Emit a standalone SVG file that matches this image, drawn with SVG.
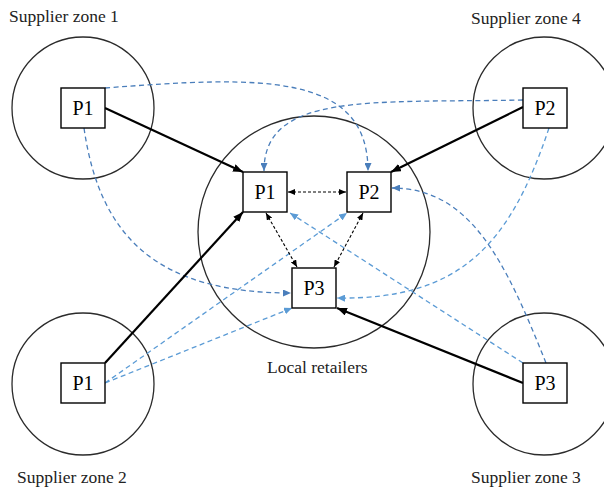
<svg xmlns="http://www.w3.org/2000/svg" width="604" height="489" viewBox="0 0 604 489">
<defs>
<style>
.zone{fill:none;stroke:#2b2b2b;stroke-width:1.3}
.box{fill:#fff;stroke:#000;stroke-width:1.4}
.lbl{font-family:"Liberation Serif","Times New Roman",serif;font-size:17.5px;fill:#222}
.plbl{font-family:"Liberation Serif","Times New Roman",serif;font-size:20px;fill:#000;text-anchor:middle}
.solid{fill:none;stroke:#000;stroke-width:2.2;marker-end:url(#ab)}
.dot{fill:none;stroke:#000;stroke-width:1.1;stroke-dasharray:3 2;marker-end:url(#ad);marker-start:url(#ad)}
.dk{fill:none;stroke:#4a7ebb;stroke-width:1.3;stroke-dasharray:5 3.5;marker-end:url(#adk)}
.lt{fill:none;stroke:#5b9bd5;stroke-width:1.3;stroke-dasharray:5 3.5;marker-end:url(#alt)}
</style>
<marker id="ab" markerUnits="userSpaceOnUse" markerWidth="10" markerHeight="8" refX="10" refY="4" orient="auto"><path d="M0,0 L10,4 L0,8 z" fill="#000"/></marker>
<marker id="ad" markerUnits="userSpaceOnUse" markerWidth="7" markerHeight="6" refX="7" refY="3" orient="auto-start-reverse"><path d="M0,0 L7,3 L0,6 z" fill="#000"/></marker>
<marker id="adk" markerUnits="userSpaceOnUse" markerWidth="8" markerHeight="7" refX="8" refY="3.5" orient="auto"><path d="M0,0 L8,3.5 L0,7 z" fill="#4a7ebb"/></marker>
<marker id="alt" markerUnits="userSpaceOnUse" markerWidth="8" markerHeight="7" refX="8" refY="3.5" orient="auto"><path d="M0,0 L8,3.5 L0,7 z" fill="#5b9bd5"/></marker>
</defs>
<rect width="604" height="489" fill="#fff"/>
<g id="zone1"><circle class="zone" cx="83" cy="108" r="71"/><text class="lbl" x="9" y="22">Supplier zone 1</text></g>
<g id="zone4"><circle class="zone" cx="544" cy="108" r="71"/><text class="lbl" x="471" y="24">Supplier zone 4</text></g>
<g id="zone2"><circle class="zone" cx="83" cy="384" r="71"/><text class="lbl" x="17" y="483">Supplier zone 2</text></g>
<g id="zone3"><circle class="zone" cx="544" cy="384" r="71"/><text class="lbl" x="471" y="483">Supplier zone 3</text></g>
<g id="local"><circle class="zone" cx="314" cy="232" r="116"/><text class="lbl" x="267" y="373">Local retailers</text></g>
<g id="connectors">
<path class="dk" d="M105,88 C260,76 368,72 368,171"/>
<path class="dk" d="M523,100 C370,103 264,92 264,171"/>
<path class="dk" d="M84,128 C100,240 160,293 291,293"/>
<path class="lt" d="M549,128 C510,245 460,300 337,298"/>
<path class="dk" d="M546,363 C505,260 470,188 392,188"/>
<path class="lt" d="M523,363 L290,213"/>
<path class="lt" d="M105,383 L347,213"/>
<path class="lt" d="M105,383 L292,308"/>
<path class="solid" d="M105,108 L243,172"/>
<path class="solid" d="M523,107 L391,172"/>
<path class="solid" d="M105,363 L243,212"/>
<path class="solid" d="M523,383 L337,308"/>
<path class="dot" d="M288,192 L346,192"/>
<path class="dot" d="M266,213 L297,267"/>
<path class="dot" d="M363,213 L334,267"/>
</g>
<g id="z1p1"><rect class="box" x="61" y="88" width="44" height="40"/><text class="plbl" x="83" y="115">P1</text></g>
<g id="z4p2"><rect class="box" x="523" y="88" width="44" height="40"/><text class="plbl" x="545" y="115">P2</text></g>
<g id="z2p1"><rect class="box" x="61" y="363" width="44" height="40"/><text class="plbl" x="83" y="390">P1</text></g>
<g id="z3p3"><rect class="box" x="523" y="363" width="44" height="40"/><text class="plbl" x="545" y="390">P3</text></g>
<g id="lp1"><rect class="box" x="243" y="172" width="44" height="40"/><text class="plbl" x="265" y="199">P1</text></g>
<g id="lp2"><rect class="box" x="347" y="172" width="44" height="40"/><text class="plbl" x="369" y="199">P2</text></g>
<g id="lp3"><rect class="box" x="292" y="268" width="44" height="40"/><text class="plbl" x="314" y="295">P3</text></g>
</svg>
